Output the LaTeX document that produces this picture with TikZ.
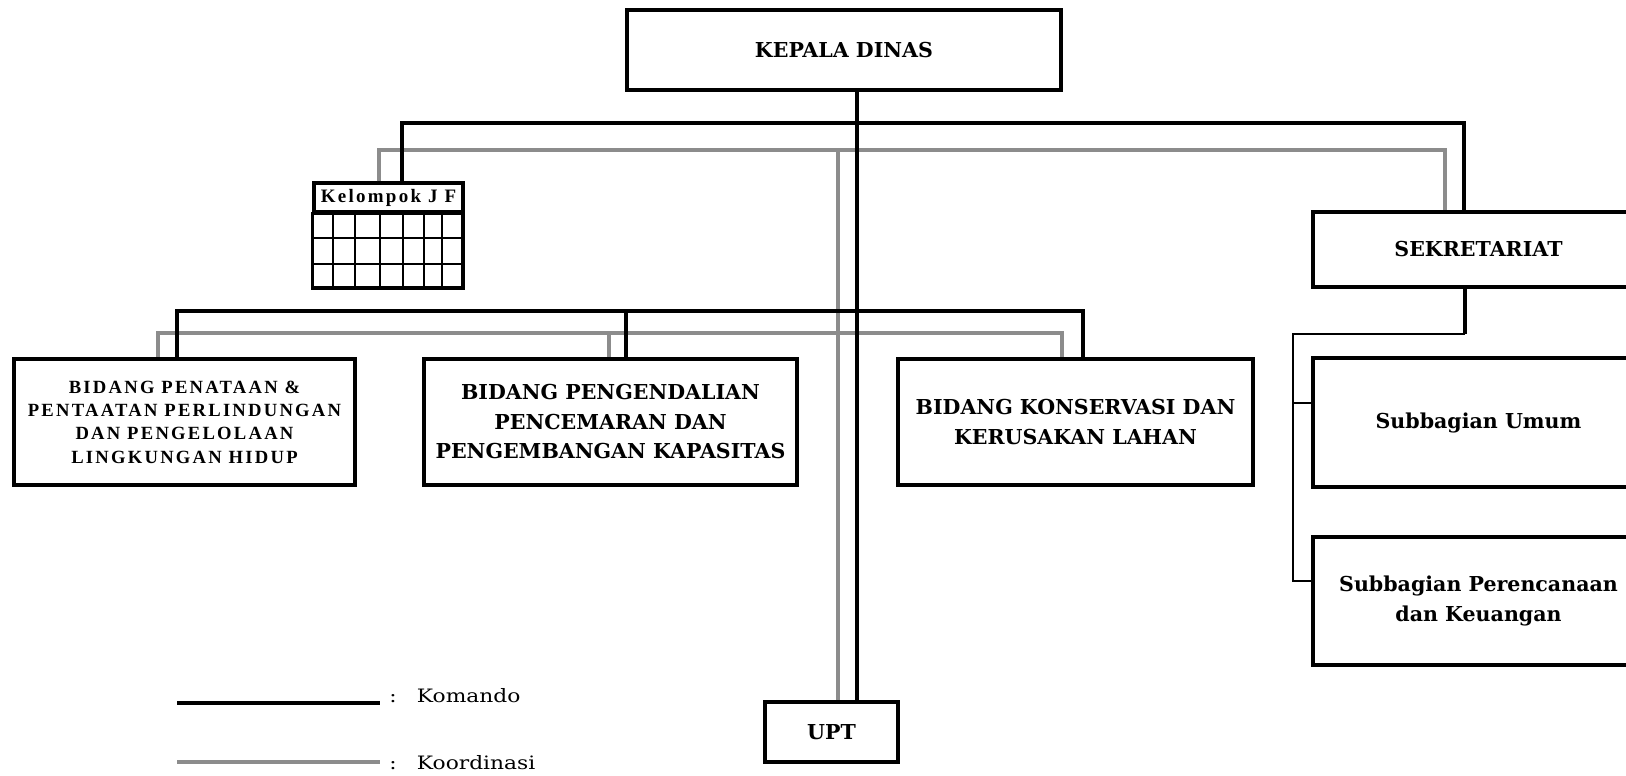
\documentclass[tikz,border=0pt]{standalone}
\usepackage{fontspec}
\setmainfont{DejaVu Serif}
\newfontfamily\timesfont{Liberation Serif}[LetterSpace=12]
\newfontfamily\legendfont{DejaVu Serif}[FakeStretch=1.18]
\usetikzlibrary{positioning}

\tikzset{
  unit/.style={
    draw, line width=2.6pt, fill=white, align=center, inner sep=0pt,
    font=\fontsize{11.7}{16.8}\selectfont\bfseries
  },
  kadisbox/.style={unit, minimum width=8.68cm, minimum height=1.6cm},
  bidang/.style={unit, minimum height=2.52cm},
  penataan/.style={bidang, font=\timesfont\fontsize{10.6}{13.3}\selectfont\bfseries},
  sekbox/.style={unit, minimum width=6.62cm},
  uptbox/.style={unit, minimum width=2.66cm, minimum height=1.2cm},
  jfhead/.style={
    draw, line width=1.8pt, fill=white, minimum width=2.98cm, minimum height=0.58cm,
    inner sep=0pt, font=\timesfont\fontsize{10.8}{12}\selectfont\bfseries
  },
  jfgrid/.style={line width=1.2pt},
  komando/.style={line width=2.6pt, black},
  koordinasi/.style={line width=1.8pt, black!45},
  staf/.style={line width=1.3pt},
  legend/.style={font=\legendfont\fontsize{10.5}{12}\selectfont, inner sep=0pt, anchor=base west}
}

\begin{document}
\begin{tikzpicture}[x=0.02cm, y=-0.02cm]
  \useasboundingbox (0,0) rectangle (1626,776);
  \clip (0,0) rectangle (1626,776);

  % units
  \node[kadisbox] (kadis) at (844,50) {KEPALA DINAS};
  \node[jfhead] (jf) at (388.5,197.5) {Kelompok J F};
  \node[penataan, minimum width=6.82cm] (bidPenataan) at (184.5,422)
    {BIDANG PENATAAN \&\\PENTAATAN PERLINDUNGAN\\DAN PENGELOLAAN\\LINGKUNGAN HIDUP};
  \node[bidang, minimum width=7.46cm] (bidPengendalian) at (610.5,422)
    {BIDANG PENGENDALIAN\\PENCEMARAN DAN\\PENGEMBANGAN KAPASITAS};
  \node[bidang, minimum width=7.1cm] (bidKonservasi) at (1075.5,422)
    {BIDANG KONSERVASI DAN\\KERUSAKAN LAHAN};
  \node[sekbox, minimum height=1.5cm] (sekre) at (1478.5,249.5) {SEKRETARIAT};
  \node[sekbox, minimum height=2.58cm] (subUmum) at (1478.5,422.5) {Subbagian Umum};
  \node[sekbox, minimum height=2.56cm] (subRencana) at (1478.5,601)
    {Subbagian Perencanaan\\dan Keuangan};
  \node[uptbox] (upt) at (831.5,732) {UPT};

  % kelompok jabatan fungsional grid
  \foreach \gx in {333,355,380,403,424,442}
    \draw[jfgrid] (\gx,212) -- (\gx,288);
  \foreach \gy in {238,264}
    \draw[jfgrid] (314,\gy) -- (463,\gy);
  \draw[line width=1.8pt] (jf.south west) rectangle (463,288);

  % garis koordinasi
  \coordinate (gA) at (379,150);
  \coordinate (gB) at (1445,150);
  \coordinate (gT) at (838,150);
  \draw[koordinasi] (jf.north -| gA) -- (gA) -- (gB) -- (sekre.north -| gB);
  \draw[koordinasi] (gT) -- (upt.north -| gT);
  \coordinate (nA) at (158,333);
  \coordinate (nB) at (1062,333);
  \coordinate (nC) at (609,333);
  \draw[koordinasi] (bidPenataan.north -| nA) -- (nA) -- (nB) -- (bidKonservasi.north -| nB);
  \draw[koordinasi] (nC) -- (bidPengendalian.north -| nC);

  % garis komando
  \coordinate (trunk) at (857,0);
  \draw[komando] (kadis.south -| trunk) -- (upt.north -| trunk);
  \coordinate (kA) at (402,123);
  \coordinate (kB) at (1464,123);
  \draw[komando] (jf.north -| kA) -- (kA) -- (kB) -- (sekre.north -| kB);
  \coordinate (mA) at (177,311);
  \coordinate (mB) at (1083,311);
  \coordinate (mC) at (626,311);
  \draw[komando] (bidPenataan.north -| mA) -- (mA) -- (mB) -- (bidKonservasi.north -| mB);
  \draw[komando] (mC) -- (bidPengendalian.north -| mC);

  % sekretariat
  \coordinate (sA) at (1465,334);
  \coordinate (sB) at (1293,334);
  \coordinate (sC) at (1293,403);
  \coordinate (sD) at (1293,581);
  \draw[line width=1.8pt] (sekre.south -| sA) -- (sA);
  \draw[staf] (sA) -- (sB) -- (sD) -- (subRencana.west |- sD);
  \draw[staf] (sC) -- (subUmum.west |- sC);

  % keterangan
  \coordinate (lkA) at (177,703);
  \coordinate (lkB) at (380,703);
  \coordinate (lgA) at (177,762);
  \coordinate (lgB) at (380,762);
  \draw[line width=2pt] (lkA) -- (lkB);
  \draw[koordinasi] (lgA) -- (lgB);
  \node[legend] (lblKomando) at (389,702) {:\hspace{1.1em}Komando};
  \node[legend] (lblKoordinasi) at (389,769) {:\hspace{1.1em}Koordinasi};
\end{tikzpicture}
\end{document}
